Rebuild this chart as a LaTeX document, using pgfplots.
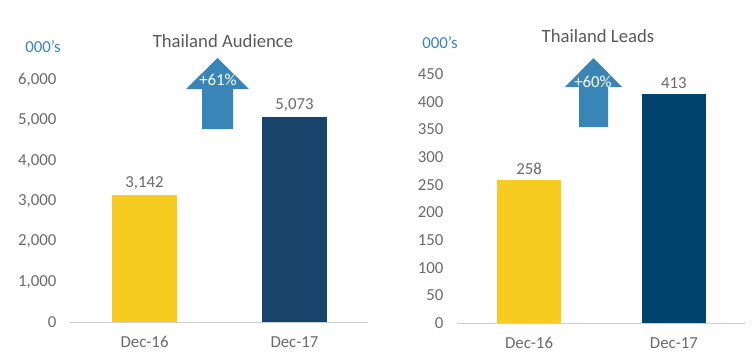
\documentclass[border=0pt]{standalone}
\usepackage{pgfplots}
\pgfplotsset{compat=1.18}
\usepackage{fontspec}
\setmainfont{Carlito}
\definecolor{ybarc}{HTML}{F5CC1F}
\definecolor{navyL}{HTML}{18446B}
\definecolor{navyR}{HTML}{00446B}
\definecolor{arrowc}{HTML}{3A85B7}
\definecolor{tickgray}{HTML}{6A6A6A}
\definecolor{titlegray}{HTML}{595959}
\definecolor{unitblue}{HTML}{3B80C4}
\begin{document}
\begin{tikzpicture}
\useasboundingbox (0,0) rectangle (753pt,360pt);
\pgfplotsset{
  myaxis/.style={
    anchor=south west, scale only axis,
    axis x line=bottom, axis y line=left,
    y axis line style={draw=none},
    x axis line style={draw=black!20, line width=0.8pt, -},
    major tick length=0pt,
    tick label style={font=\fontsize{16.8}{19}\selectfont, text=tickgray},
    yticklabel style={xshift=-10pt},
    xticklabel style={yshift=-11pt},
    /pgf/number format/1000 sep={,},
    /pgf/number format/assume math mode=true,
    xtick={0,1}, xticklabels={Dec-16,Dec-17},
    ymin=0, clip=false,
    nodes near coords,
    every node near coord/.append style={font=\fontsize{16.8}{19}\selectfont, text=tickgray, yshift=2pt},
  },
}
% Left chart
\begin{axis}[myaxis,
  at={(70pt,38pt)}, width=298pt, height=242pt,
  xmin=-0.497, xmax=1.49, ymax=6000,
  ytick={0,1000,...,6000}]
\addplot[ybar, bar shift=0pt, bar width=65pt, fill=ybarc, draw=none] coordinates {(0,3142)};
\addplot[ybar, bar shift=0pt, bar width=65pt, fill=navyL, draw=none] coordinates {(1,5073)};
\end{axis}
% Right chart
\begin{axis}[myaxis,
  at={(457pt,37pt)}, width=288pt, height=249pt,
  xmin=-0.497, xmax=1.49, ymax=450,
  ytick={0,50,...,450}]
\addplot[ybar, bar shift=0pt, bar width=64pt, fill=ybarc, draw=none] coordinates {(0,258)};
\addplot[ybar, bar shift=0pt, bar width=64pt, fill=navyR, draw=none] coordinates {(1,413)};
\end{axis}
% annotations
\node[text=unitblue, font=\fontsize{16.8}{19}\selectfont] at (43pt,313pt) {000\char"0027s};
\node[text=unitblue, font=\fontsize{16.8}{19}\selectfont] at (440pt,317pt) {000\char"0027s};
\node[text=titlegray, font=\fontsize{18.7}{22}\selectfont] at (223pt,319pt) {Thailand Audience};
\node[text=titlegray, font=\fontsize{18.7}{22}\selectfont] at (598pt,324pt) {Thailand Leads};
\fill[arrowc] (217.5pt,302pt) -- (249pt,271pt) -- (233pt,271pt) -- (233pt,231pt) -- (202pt,231pt) -- (202pt,271pt) -- (186pt,271pt) -- cycle;
\fill[arrowc] (593.5pt,302pt) -- (622pt,273pt) -- (608pt,273pt) -- (608pt,233pt) -- (579pt,233pt) -- (579pt,273pt) -- (565pt,273pt) -- cycle;
\node[text=white, font=\fontsize{16.8}{19}\selectfont] at (218pt,280pt) {+61\%};
\node[text=white, font=\fontsize{16.8}{19}\selectfont] at (593pt,278pt) {+60\%};
\end{tikzpicture}
\end{document}
